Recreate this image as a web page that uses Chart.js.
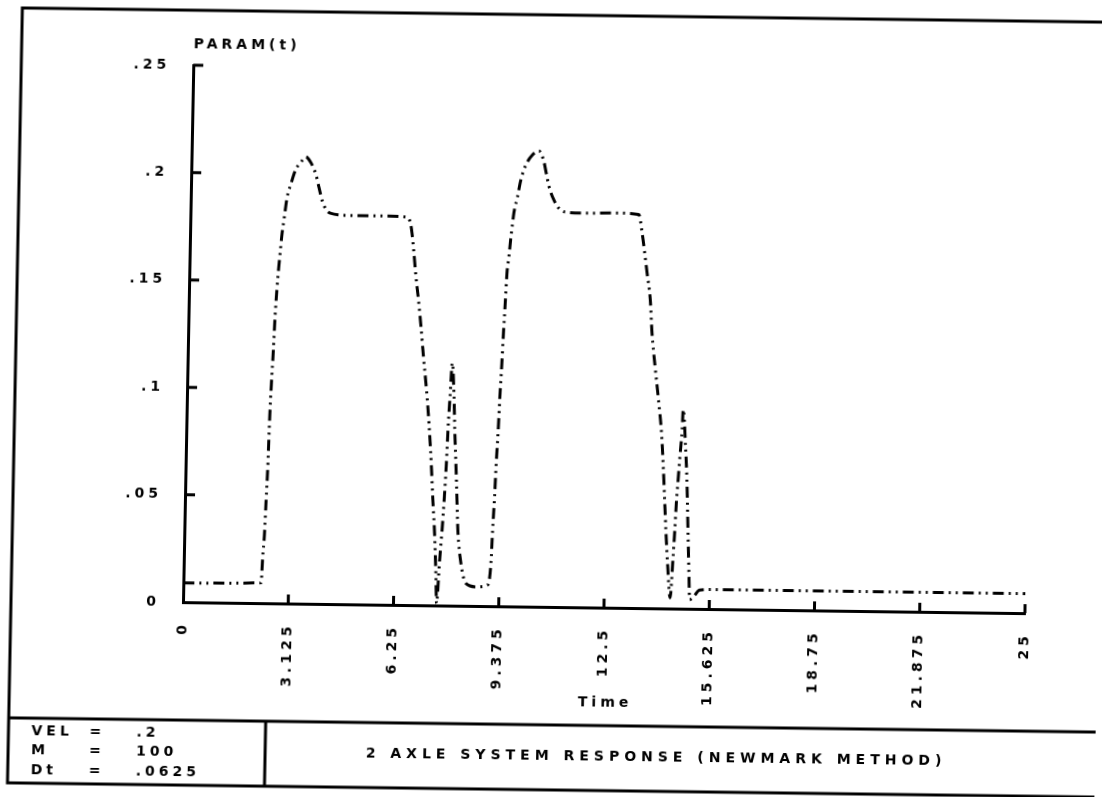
<!DOCTYPE html>
<html>
<head>
<meta charset="utf-8">
<title>2 Axle System Response</title>
<script src="https://cdn.jsdelivr.net/npm/chart.js@4/dist/chart.umd.min.js"></script>
<style>
  html, body { margin: 0; padding: 0; background: #fff; overflow: hidden; }
  #sheet {
    width: 1102px;
    height: 797px;
    transform-origin: 551px 398.5px;
    /* the scan is slightly skewed */
    transform: matrix(1, 0.0131, -0.0192, 1, 0, 0);
  }
</style>
</head>
<body>
<div id="sheet">
  <canvas id="plot" width="1102" height="797"></canvas>
</div>
<script>
// data
const times = [0, 2.31, 2.34, 2.38, 2.41, 2.44, 2.47, 2.50, 2.54, 2.57, 2.61, 2.65, 2.69, 2.73, 2.79, 2.86, 2.96, 3.10, 3.25, 3.39, 3.54, 3.70, 3.80, 3.90, 4.01, 4.15, 4.77, 5.75, 6.44, 6.54, 6.59, 6.65, 6.73, 6.82, 6.91, 7.00, 7.11, 7.20, 7.30, 7.36, 7.43, 7.49, 7.53, 7.59, 7.65, 7.70, 7.74, 7.77, 7.81, 7.86, 7.93, 7.97, 8.05, 8.12, 8.23, 8.39, 8.69, 9.03, 9.12, 9.15, 9.19, 9.22, 9.26, 9.29, 9.33, 9.36, 9.40, 9.43, 9.48, 9.52, 9.56, 9.60, 9.70, 9.79, 9.93, 10.12, 10.31, 10.45, 10.54, 10.63, 10.78, 10.93, 11.13, 11.68, 12.67, 13.31, 13.42, 13.59, 13.70, 13.77, 13.88, 14.00, 14.11, 14.18, 14.24, 14.30, 14.37, 14.46, 14.52, 14.56, 14.59, 14.63, 14.67, 14.72, 14.74, 14.83, 14.89, 14.93, 14.97, 15.01, 15.04, 15.17, 15.32, 15.67, 25];
const values = [0.009, 0.0095, 0.021, 0.032, 0.048, 0.063, 0.087, 0.102, 0.118, 0.133, 0.146, 0.156, 0.164, 0.172, 0.180, 0.189, 0.195, 0.202, 0.2055, 0.208, 0.2055, 0.200, 0.194, 0.188, 0.184, 0.182, 0.181, 0.181, 0.1805, 0.1776, 0.173, 0.165, 0.153, 0.142, 0.1295, 0.1156, 0.100, 0.085, 0.064, 0.049, 0.0335, 0.015, 0.001, 0.0196, 0.035, 0.0506, 0.066, 0.082, 0.097, 0.113, 0.097, 0.082, 0.058, 0.035, 0.0197, 0.0104, 0.0089, 0.0098, 0.020, 0.035, 0.051, 0.0665, 0.082, 0.0975, 0.113, 0.127, 0.1426, 0.155, 0.1628, 0.1706, 0.1768, 0.183, 0.1908, 0.1986, 0.2056, 0.2103, 0.2122, 0.2081, 0.2019, 0.1957, 0.1895, 0.1857, 0.1839, 0.1835, 0.1838, 0.1832, 0.1747, 0.1561, 0.1437, 0.1282, 0.1126, 0.0972, 0.0817, 0.0662, 0.0507, 0.0351, 0.0196, 0.005, 0.0228, 0.0367, 0.0492, 0.0601, 0.0709, 0.0834, 0.0927, 0.0756, 0.0601, 0.0446, 0.0291, 0.0136, 0.0043, 0.0059, 0.0087, 0.0091, 0.0091];

const xTickValues = [0, 3.125, 6.25, 9.375, 12.5, 15.625, 18.75, 21.875, 25];
const xTickLabels = ['0', '3.125', '6.25', '9.375', '12.5', '15.625', '18.75', '21.875', '25'];
const yTickValues = [0, 0.05, 0.1, 0.15, 0.2, 0.25];
const yTickLabels = ['0', '.05', '.1', '.15', '.2', '.25'];

const yTitle = 'PARAM(t)';
const xTitle = 'Time';
const infoNames = ['VEL', 'M', 'Dt'];
const infoValues = ['.2', '100', '.0625'];
const chartTitle = '2 AXLE SYSTEM RESPONSE (NEWMARK METHOD)';

const FONT = '"DejaVu Sans", sans-serif';
const INK = '#000';

// plotter-ish wide lettering
const spacing = {
    id: 'spacing',
    beforeUpdate(chart) { chart.ctx.letterSpacing = '4px'; },
    beforeLayout(chart) { chart.ctx.letterSpacing = '4px'; },
    beforeDraw(chart) {
        const ctx = chart.ctx;
        ctx.letterSpacing = '4px';
        ctx.save();
        ctx.fillStyle = '#fff';
        ctx.fillRect(0, 0, chart.width, chart.height);
        ctx.restore();
    }
};

// ticks drawn inward from the axes, plus frame and captions
const decorations = {
    id: 'decorations',
    afterDraw(chart) {
        const ctx = chart.ctx;
        const area = chart.chartArea;
        const xs = chart.scales.x;
        const ys = chart.scales.y;
        ctx.save();
        ctx.strokeStyle = INK;
        ctx.fillStyle = INK;
        ctx.lineWidth = 3;
        ctx.lineCap = 'butt';

        xTickValues.forEach((v) => {
            if (v === 0) return;
            const px = xs.getPixelForValue(v);
            ctx.beginPath();
            ctx.moveTo(px, area.bottom);
            ctx.lineTo(px, area.bottom - 9);
            ctx.stroke();
        });
        yTickValues.forEach((v) => {
            if (v === 0) return;
            const py = ys.getPixelForValue(v);
            ctx.beginPath();
            ctx.moveTo(area.left, py);
            ctx.lineTo(area.left + 10, py);
            ctx.stroke();
        });

        // frame round the sheet and the caption boxes
        ctx.strokeRect(15, 15, 1089, 775);
        ctx.beginPath();
        ctx.moveTo(15, 725);
        ctx.lineTo(1104, 725);
        ctx.moveTo(272, 725);
        ctx.lineTo(272, 790);
        ctx.stroke();

        ctx.font = 'bold 14px ' + FONT;
        ctx.textBaseline = 'middle';
        ctx.textAlign = 'left';
        ctx.letterSpacing = '4px';
        ctx.fillText(yTitle, area.left, area.top - 21);

        ctx.textAlign = 'center';
        ctx.fillText(xTitle, (area.left + area.right) / 2 + 3, area.bottom + 95);

        ctx.textAlign = 'left';
        infoNames.forEach((name, i) => {
            const y = 738 + i * 19.5;
            ctx.fillText(name, 38, y);
            ctx.fillText('=', 96, y);
            ctx.fillText(infoValues[i], 143, y);
        });

        ctx.letterSpacing = '5px';
        ctx.textAlign = 'center';
        ctx.fillText(chartTitle, 663, 756);
        ctx.restore();
    }
};

const points = times.map((t, i) => ({ x: t, y: values[i] }));

new Chart(document.getElementById('plot'), {
    type: 'line',
    data: {
        datasets: [
            {
                label: yTitle,
                data: points,
                borderColor: INK,
                borderWidth: 3,
                borderDash: [11, 5, 2, 5, 2, 5],
                pointRadius: 0,
                cubicInterpolationMode: 'monotone',
                fill: false,
            },
        ],
    },
    options: {
        responsive: false,
        animation: false,
        devicePixelRatio: 1,
        layout: {
            padding: { left: 0, top: 70, right: 73, bottom: 0 },
        },
        plugins: {
            legend: { display: false },
            tooltip: { enabled: false },
        },
        scales: {
            x: {
                type: 'linear',
                min: 0,
                max: 25,
                afterBuildTicks: (scale) => {
                    scale.ticks = xTickValues.map((v) => ({ value: v }));
                },
                afterFit: (scale) => {
                    scale.height = 190;
                },
                ticks: {
                    minRotation: 90,
                    maxRotation: 90,
                    padding: 19,
                    color: INK,
                    font: { family: FONT, size: 14, weight: 'bold' },
                    callback: (value, index) => xTickLabels[index],
                },
                grid: { display: false, drawTicks: false },
                border: { display: true, color: INK, width: 3 },
            },
            y: {
                type: 'linear',
                min: 0,
                max: 0.25,
                afterBuildTicks: (scale) => {
                    scale.ticks = yTickValues.map((v) => ({ value: v }));
                },
                afterFit: (scale) => {
                    scale.width = 187;
                },
                ticks: {
                    padding: 23,
                    color: INK,
                    font: { family: FONT, size: 14, weight: 'bold' },
                    callback: (value, index) => yTickLabels[index],
                },
                grid: { display: false, drawTicks: false },
                border: { display: true, color: INK, width: 3 },
            },
        },
    },
    plugins: [spacing, decorations],
});
</script>
</body>
</html>
